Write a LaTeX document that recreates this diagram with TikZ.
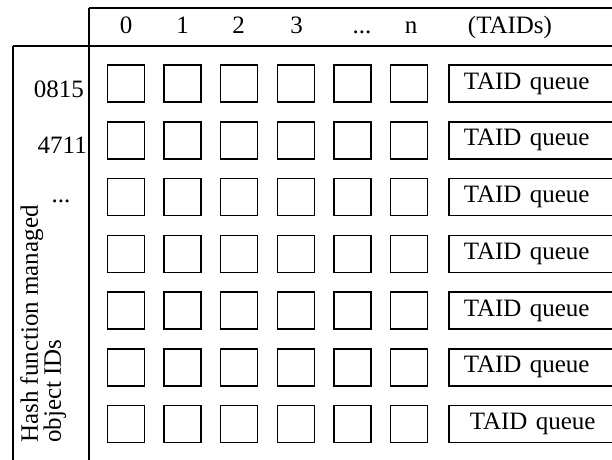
\documentclass[tikz,border=0pt]{standalone}
\usepackage{fontspec}
\setmainfont{Liberation Serif}
\newcommand\threedots{...}
\tikzset{
  frame/.style={line width=1.5pt},
  slot/.style={draw,line width=1.5pt,minimum size=37pt,inner sep=0pt},
  queuebox/.style={draw,line width=1.5pt,minimum height=37pt,anchor=west,
    text width=170pt,align=left,inner ysep=0pt},
}
\begin{document}
\begin{tikzpicture}[x=1pt,y=-1pt,font=\fontsize{25}{23}\selectfont]
  \clip (0,0) rectangle (612,459);
  % table frame
  \coordinate (tl) at (89,8);
  \coordinate (tr) at (640,8);
  \coordinate (ml) at (13,46);
  \coordinate (mr) at (640,46);
  \coordinate (bl) at (13,470);
  \coordinate (bm) at (89,470);
  \draw[frame] (tl) -- (tr);
  \draw[frame] (ml) -- (mr);
  \draw[frame] (tl) -- (bm);
  \draw[frame] (ml) -- (bl);
  % column heads
  \foreach \x/\t/\n in {126/0/h0,182.5/1/h1,238.5/2/h2,296.5/3/h3,362/\threedots/hd,411/n/hn,510/(TAIDs)/ht}
    \node[anchor=base,inner sep=0pt] (\n) at (\x,33) {\t};
  % row heads
  \node[anchor=base east,inner sep=0pt] (id1) at (84,97) {0815};
  \node[anchor=base east,inner sep=0pt] (id2) at (87,153) {4711};
  \node[anchor=base,inner sep=0pt] (id3) at (61,202) {\threedots};
  \node[rotate=90,anchor=north west,align=left,inner sep=0pt] (idlab) at (20,443)
    {Hash function managed\\object IDs};
  % TAID slots and queues
  \foreach \r/\ind in {1/15pt,2/15pt,3/15pt,4/15pt,5/15pt,6/15pt,7/21pt} {
    \foreach \c in {0,...,5}
      \node[slot] (s\r-\c) at ({126+56.6*\c},{83.5+56.75*(\r-1)}) {};
    \node[queuebox,inner xsep=\ind] (q\r) at (448,{83.5+56.75*(\r-1)}) {TAID queue};
  }
\end{tikzpicture}
\end{document}
